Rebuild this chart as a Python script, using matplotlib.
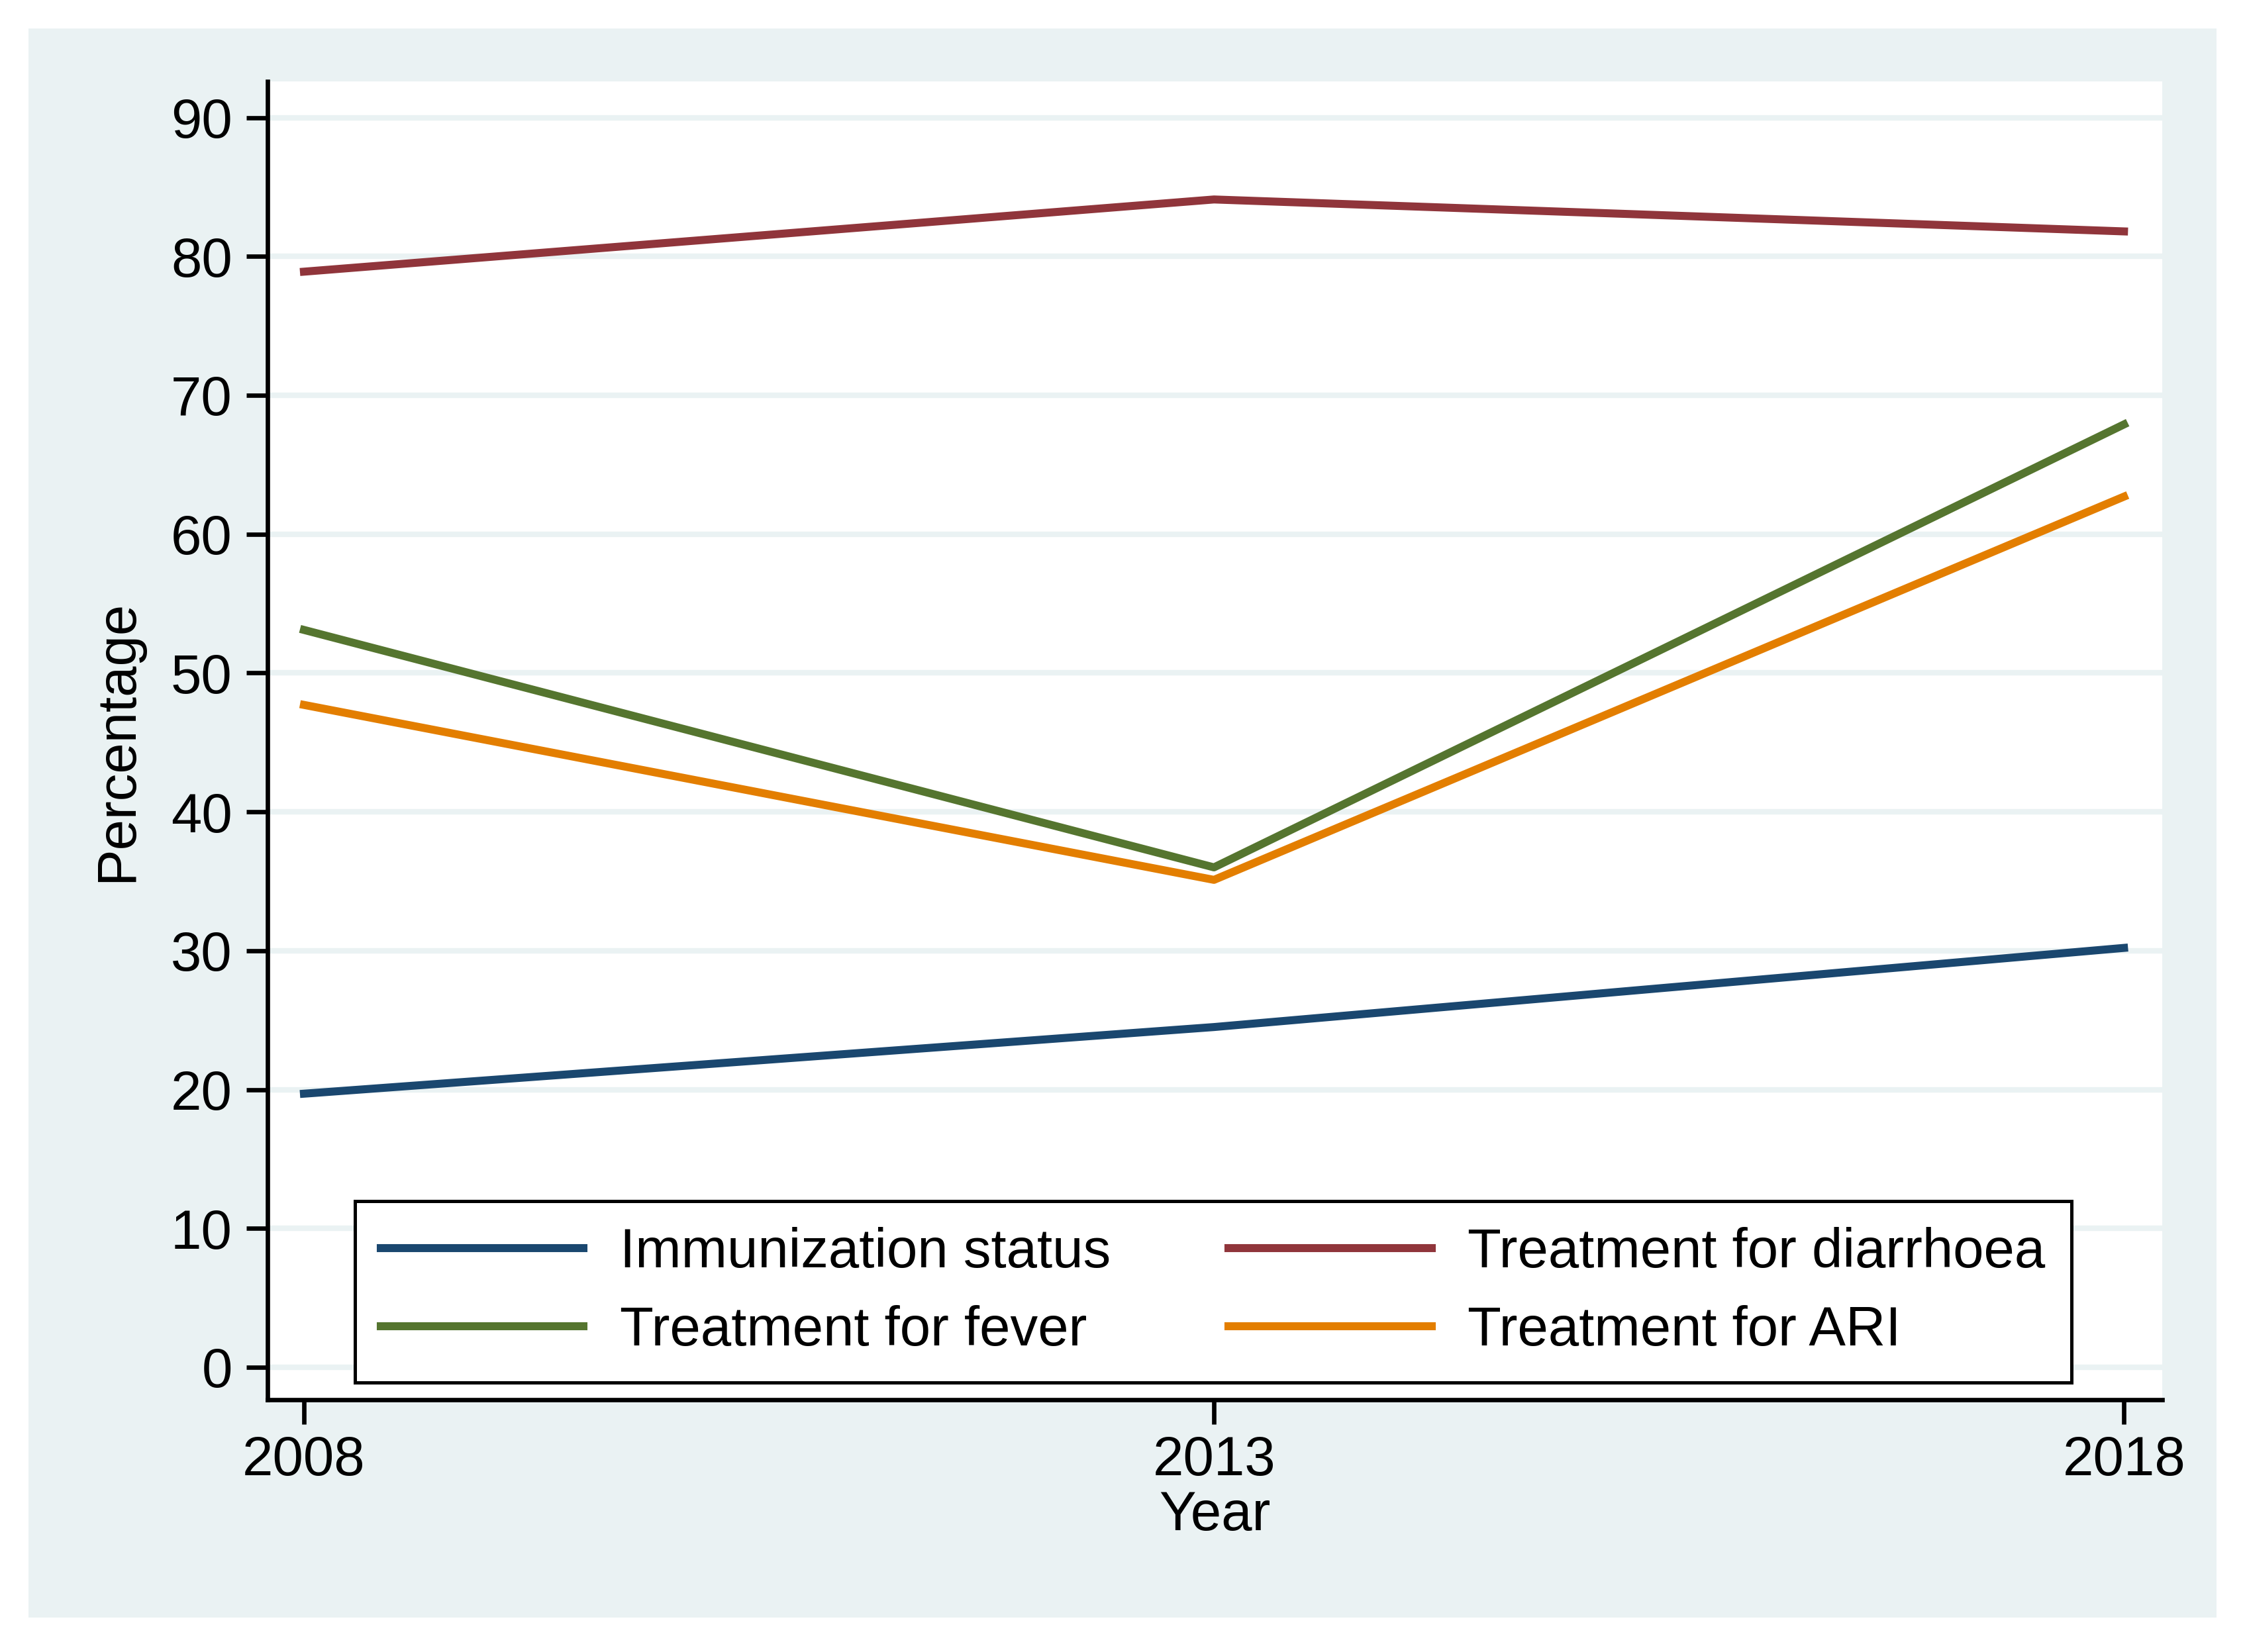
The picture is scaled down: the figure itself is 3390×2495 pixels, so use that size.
import matplotlib.pyplot as plt
import numpy as np

# data
years = [2008, 2013, 2018]
immunization = [19.7, 24.5, 30.2]
diarrhoea = [78.9, 84.1, 81.8]
fever = [53.1, 36.0, 67.9]
ari = [47.7, 35.1, 62.7]
labels = ["Immunization status", "Treatment for diarrhoea",
          "Treatment for fever", "Treatment for ARI"]
y_ticks = np.arange(0, 91, 10)

plt.rcParams['font.family'] = ['Liberation Sans', 'DejaVu Sans']

W, H = 3390, 2495
fig = plt.figure(figsize=(W / 300, H / 300), dpi=300)
fig.patch.set_facecolor('white')

# grey graph region (Stata style), kept behind the axes
bg = plt.Rectangle((43 / W, 1 - 2443 / H), (3347 - 43) / W, (2443 - 43) / H,
                   transform=fig.transFigure, facecolor='#eaf2f3',
                   edgecolor='none', zorder=-10)
fig.patches.append(bg)

ax = fig.add_axes([404 / W, 1 - 2114 / H, (3265 - 404) / W, (2114 - 123) / H])
ax.set_facecolor('white')

lw = 2.9
ax.plot(years, immunization, color='#1a476f', lw=lw, label=labels[0])
ax.plot(years, diarrhoea, color='#90353b', lw=lw, label=labels[1])
ax.plot(years, fever, color='#55752f', lw=lw, label=labels[2])
ax.plot(years, ari, color='#e37e00', lw=lw, label=labels[3])

ax.set_xlim(2007.80, 2018.21)
ax.set_ylim(-2.34, 92.6)
ax.set_xticks(years)
ax.set_yticks(y_ticks)
ax.yaxis.grid(True, color='#eaf2f3', lw=2.0)
ax.set_axisbelow(True)

for s in ['top', 'right']:
    ax.spines[s].set_visible(False)
for s in ['left', 'bottom']:
    ax.spines[s].set_linewidth(1.6)
    ax.spines[s].set_color('black')

ax.tick_params(axis='y', length=7.8, width=1.6, labelsize=20, pad=5)
ax.tick_params(axis='x', length=8.8, width=1.6, labelsize=20, pad=4)

ax.set_ylabel("Percentage", fontsize=20, labelpad=10)
ax.set_xlabel("Year", fontsize=20, labelpad=1)

# legend order: row-wise two columns
h, l = ax.get_legend_handles_labels()
order = [0, 2, 1, 3]
leg = ax.legend([h[i] for i in order], [l[i] for i in order], ncol=2,
                loc='lower left', bbox_to_anchor=(0.046, 0.013, 0.906, 0.137),
                mode='expand', borderaxespad=0, fontsize=20,
                handlelength=3.68, handletextpad=0.65,
                columnspacing=2.0, labelspacing=0.48, borderpad=0.47,
                fancybox=False, framealpha=1, edgecolor='black')
leg.get_frame().set_linewidth(1.2)

fig.savefig("out.png", dpi=300)
